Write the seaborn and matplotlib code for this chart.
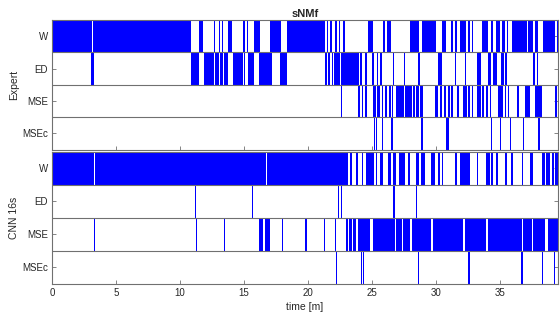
import matplotlib
matplotlib.use("Agg")
import matplotlib.pyplot as plt
import seaborn as sns

# Activity rasters (start, end) in minutes for each detector row
rows = ["W", "ED", "MSE", "MSEc"]
groups = ["Expert", "CNN 16s"]
x_ticks = [0, 5, 10, 15, 20, 25, 30, 35]
x_max = 39.55

expert_W = [
    (0.00, 3.16), (3.22, 10.86), (11.48, 11.84), (12.66, 12.73), (13.05, 13.16),
    (13.32, 13.40), (13.75, 14.10), (14.96, 15.12), (15.23, 15.35), (15.78, 16.25),
    (17.03, 17.89), (18.36, 21.37), (21.48, 21.60), (21.72, 21.88), (22.11, 22.27),
    (22.42, 22.54), (22.73, 22.89), (24.69, 25.08), (25.86, 26.02), (26.17, 26.48),
    (27.97, 28.67), (28.91, 30.00), (30.47, 30.78), (31.17, 31.33), (31.48, 31.68),
    (31.88, 32.34), (32.50, 32.66), (32.81, 32.93), (33.59, 34.06), (34.30, 34.45),
    (34.69, 35.00), (35.16, 35.39), (35.55, 35.66), (35.94, 37.11), (37.23, 37.58),
    (37.73, 37.97), (38.36, 39.30), (39.45, 39.57),
]
expert_ED = [
    (3.07, 3.26), (10.84, 11.48), (11.88, 12.66), (12.71, 13.02), (13.13, 13.38),
    (13.44, 13.73), (14.12, 14.95), (15.02, 15.10), (15.34, 15.78), (16.17, 17.21),
    (17.81, 18.34), (21.33, 21.46), (21.56, 21.72), (21.88, 21.95), (22.03, 22.50),
    (22.58, 23.96), (24.06, 24.26), (24.45, 24.65), (24.98, 25.16), (25.37, 25.49),
    (25.63, 25.76), (26.66, 26.74), (27.52, 27.60), (28.59, 28.80), (30.16, 30.47),
    (31.48, 31.56), (32.27, 32.34), (33.18, 33.52), (34.06, 34.30), (34.45, 34.77),
    (35.08, 35.31), (35.39, 35.55), (37.58, 37.73), (37.89, 37.97),
]
expert_MSE = [
    (22.58, 22.66), (23.91, 24.06), (24.20, 24.32), (24.45, 24.59), (25.08, 25.31),
    (25.39, 25.63), (25.76, 25.88), (26.02, 26.20), (26.33, 26.46), (26.54, 26.66),
    (26.88, 27.50), (27.58, 28.10), (28.23, 28.36), (28.49, 28.70), (28.75, 28.96),
    (29.92, 30.18), (30.31, 30.45), (30.63, 30.78), (30.96, 31.09), (31.17, 31.35),
    (31.66, 31.82), (32.11, 32.40), (32.48, 32.66), (32.79, 32.91), (33.18, 33.52),
    (33.59, 33.75), (33.96, 34.09), (34.22, 34.35), (34.84, 35.23), (35.39, 35.52),
    (35.63, 35.70), (36.38, 36.48), (36.95, 37.09), (37.16, 37.34), (37.73, 38.30),
    (39.30, 39.51),
]
expert_MSEc = [
    (25.16, 25.23), (25.31, 25.37), (25.76, 25.84), (26.48, 26.62), (28.88, 28.96),
    (30.78, 31.04), (34.30, 34.38), (35.00, 35.08), (35.78, 35.86), (36.82, 36.90),
    (37.99, 38.13),
]

cnn_W = [
    (0.00, 3.28), (3.33, 13.42), (13.46, 15.44), (15.48, 16.70), (16.84, 23.15),
    (23.28, 23.44), (23.80, 23.93), (24.20, 24.32), (24.53, 25.16), (25.31, 25.41),
    (25.63, 25.88), (26.27, 26.46), (26.66, 26.88), (27.13, 27.58), (27.84, 27.97),
    (28.49, 28.70), (28.88, 29.14), (29.66, 29.92), (30.18, 30.31), (30.45, 30.57),
    (31.48, 31.62), (31.88, 32.66), (33.18, 33.30), (33.96, 34.22), (34.35, 34.48),
    (34.74, 34.87), (35.39, 35.60), (35.91, 36.04), (36.70, 36.85), (37.34, 37.60),
    (38.30, 38.52), (38.59, 38.91), (39.09, 39.24), (39.30, 39.55),
]
cnn_ED = [
    (11.21, 11.29), (13.42, 13.46), (15.63, 15.70), (17.87, 17.91), (22.36, 22.40),
    (22.62, 22.70), (26.68, 26.84), (28.48, 28.55), (34.36, 34.40),
]
cnn_MSE = [
    (3.26, 3.36), (11.28, 11.32), (13.44, 13.49), (15.45, 15.51), (16.17, 16.46),
    (16.64, 17.07), (17.95, 18.02), (19.80, 19.90), (21.27, 21.35), (22.15, 22.19),
    (22.97, 23.15), (23.23, 23.41), (23.49, 23.80), (23.88, 24.84), (25.10, 26.80),
    (26.88, 27.32), (27.45, 27.97), (28.10, 29.66), (29.79, 32.09), (32.27, 33.96),
    (34.09, 36.70), (36.82, 37.48), (37.60, 38.52), (38.73, 39.55),
]
cnn_MSEc = [
    (22.21, 22.26), (24.17, 24.22), (24.29, 24.35), (28.60, 28.65), (32.53, 32.57),
    (32.62, 32.66), (36.66, 36.72), (36.77, 36.82), (38.30, 38.37), (39.26, 39.33),
]

data = {
    "Expert": {"W": expert_W, "ED": expert_ED, "MSE": expert_MSE, "MSEc": expert_MSEc},
    "CNN 16s": {"W": cnn_W, "ED": cnn_ED, "MSE": cnn_MSE, "MSEc": cnn_MSEc},
}

sns.set_theme(style="white")
plt.rcParams["font.family"] = ["Liberation Sans", "DejaVu Sans"]

BLUE = "#0000ff"
TEXT = "#262626"
LINE = "#707070"

W_PX, H_PX = 560, 320
fig = plt.figure(figsize=(W_PX / 100, H_PX / 100), dpi=100)
fig.patch.set_facecolor("white")

boxes = {
    "Expert": (20, 149.5),
    "CNN 16s": (152, 283.5),
}
left_px, right_px = 52, 558

axes = {}
for g in groups:
    top, bottom = boxes[g]
    ax = fig.add_axes([left_px / W_PX, 1 - bottom / H_PX,
                       (right_px - left_px) / W_PX, (bottom - top) / H_PX])
    axes[g] = ax
    n = len(rows)
    for i, name in enumerate(rows):
        y0 = n - 1 - i
        spans = [(s, e - s) for s, e in data[g][name]]
        ax.broken_barh(spans, (y0, 1), facecolors=BLUE, edgecolor="none",
                       linewidth=0, zorder=2)
    for y in range(1, n):
        ax.axhline(y, color=LINE, lw=0.8, zorder=3)
    ax.set_xlim(0, x_max)
    ax.set_ylim(0, n)
    ax.set_yticks([n - 1 - i + 0.5 for i in range(n)])
    ax.set_yticklabels(rows)
    ax.set_xticks(x_ticks)
    ax.set_facecolor("white")
    ax.grid(False)
    for sp in ax.spines.values():
        sp.set_visible(True)
        sp.set_color(LINE)
        sp.set_linewidth(0.8)
        sp.set_zorder(4)
    ax.tick_params(axis="both", direction="in", length=3, width=0.6,
                   color=LINE, labelsize=7, labelcolor=TEXT, pad=3)
    ax.tick_params(axis="y", left=True, right=True)
    ax.tick_params(axis="x", bottom=True, top=False)
    fig.text(14 / W_PX, 1 - ((top + bottom) / 2) / H_PX, g, rotation=90,
             ha="center", va="center", fontsize=7.5, color=TEXT)

axes["Expert"].set_xticklabels([])
axes["Expert"].set_title("sNMf", fontsize=8, fontweight="bold", color=TEXT, pad=2.5)
axes["CNN 16s"].set_xticklabels([str(t) for t in x_ticks])
axes["CNN 16s"].set_xlabel("time [m]", fontsize=7.5, color=TEXT, labelpad=3)

fig.savefig("out.png", dpi=100)
